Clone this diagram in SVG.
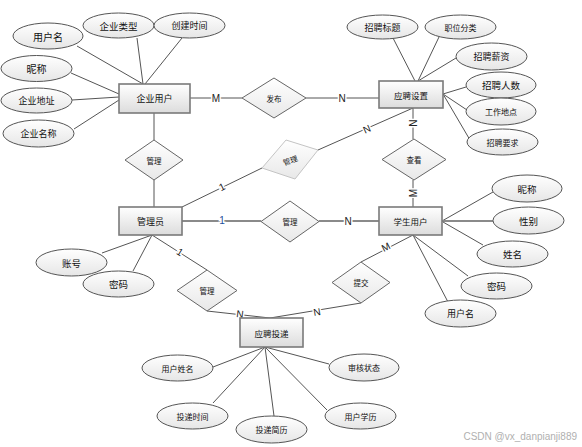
<svg xmlns="http://www.w3.org/2000/svg" width="582" height="447" viewBox="0 0 582 447">
<defs>
<linearGradient id="gEnt" x1="0" y1="0" x2="0" y2="1"><stop offset="0" stop-color="#ffffff"/><stop offset="1" stop-color="#dcdcdc"/></linearGradient>
<linearGradient id="gEll" x1="0" y1="0" x2="0" y2="1"><stop offset="0" stop-color="#ffffff"/><stop offset="1" stop-color="#e6e6e6"/></linearGradient>
<linearGradient id="gDia" x1="0" y1="0" x2="0" y2="1"><stop offset="0" stop-color="#ffffff"/><stop offset="1" stop-color="#e8e8e8"/></linearGradient>
</defs>
<style>
.ent{fill:url(#gEnt);stroke:#7a7a7a;stroke-width:1.6}
.ell{fill:url(#gEll);stroke:#555;stroke-width:1}
.dia{fill:url(#gDia);stroke:#666;stroke-width:1}
.dia2{fill:url(#gDia);stroke:#c4c4c4;stroke-width:1}
.t{font-family:"Noto Sans CJK SC","Liberation Sans",sans-serif;fill:#111;text-anchor:middle;dominant-baseline:central}
.lab{font-family:"Liberation Sans","DejaVu Sans",sans-serif;font-size:10px;fill:#222;text-anchor:middle;dominant-baseline:central;stroke:#fff;stroke-width:3;paint-order:stroke}
.ln{stroke:#555;stroke-width:1;fill:none}
.lnb{stroke:#8a8a8a;stroke-width:2;fill:none}
</style>
<rect width="582" height="447" fill="#fff"/>
<g id="connectors">
<line class="ln" x1="77" y1="46" x2="143" y2="84"/>
<line class="ln" x1="137" y1="38" x2="143" y2="84"/>
<line class="ln" x1="182" y1="38" x2="145" y2="84"/>
<line class="ln" x1="71" y1="73" x2="119" y2="94"/>
<line class="ln" x1="72" y1="100" x2="119" y2="97"/>
<line class="ln" x1="74" y1="129" x2="119" y2="100"/>
<line class="ln" x1="190" y1="98" x2="242" y2="98"/>
<line class="ln" x1="306" y1="98" x2="379" y2="98"/>
<line class="ln" x1="154" y1="113" x2="154" y2="140"/>
<line class="ln" x1="154" y1="180" x2="154" y2="207"/>
<line class="ln" x1="393" y1="38" x2="415" y2="81"/>
<line class="ln" x1="439" y1="37" x2="418" y2="81"/>
<line class="ln" x1="456" y1="58" x2="418" y2="81"/>
<line class="ln" x1="466" y1="87" x2="443" y2="94"/>
<line class="ln" x1="467" y1="110" x2="443" y2="94"/>
<line class="ln" x1="470" y1="140" x2="443" y2="94"/>
<line class="ln" x1="413" y1="108" x2="318" y2="150"/>
<line class="ln" x1="182" y1="207" x2="262" y2="168"/>
<line class="ln" x1="413" y1="108" x2="413" y2="139"/>
<line class="ln" x1="413" y1="180" x2="413" y2="207"/>
<line class="lnb" x1="182" y1="221" x2="261" y2="221"/>
<line class="lnb" x1="319" y1="221" x2="379" y2="221"/>
<line class="ln" x1="152" y1="235" x2="207" y2="270"/>
<line class="ln" x1="207" y1="311" x2="270" y2="318"/>
<line class="ln" x1="361" y1="262" x2="413" y2="235"/>
<line class="ln" x1="361" y1="303" x2="270" y2="318"/>
<line class="ln" x1="102" y1="253" x2="152" y2="235"/>
<line class="ln" x1="133" y1="271" x2="152" y2="235"/>
<line class="ln" x1="442" y1="221" x2="493" y2="192"/>
<line class="lnb" x1="442" y1="221" x2="493" y2="221"/>
<line class="ln" x1="443" y1="222" x2="483" y2="245"/>
<line class="ln" x1="413" y1="235" x2="468" y2="276"/>
<line class="ln" x1="413" y1="235" x2="448" y2="302"/>
<line class="ln" x1="265" y1="347" x2="213" y2="367"/>
<line class="ln" x1="265" y1="347" x2="329" y2="364"/>
<line class="ln" x1="265" y1="347" x2="213" y2="403"/>
<line class="ln" x1="265" y1="347" x2="274" y2="416"/>
<line class="ln" x1="265" y1="347" x2="327" y2="410"/>
<text class="lab" x="216" y="98">M</text>
<text class="lab" x="342" y="98">N</text>
<text class="lab" x="367" y="129" font-size="9" transform="rotate(-24 367 129)">N</text>
<text class="lab" x="222" y="187" font-size="9" transform="rotate(-26 222 187)">1</text>
<text class="lab" x="413" y="123" transform="rotate(-90 413 123)">N</text>
<text class="lab" x="413" y="193" transform="rotate(-90 413 193)">M</text>
<text class="lab" x="222" y="220" style="fill:#1f4f9c">1</text>
<text class="lab" x="348" y="221">N</text>
<text class="lab" x="180" y="252" font-size="9" transform="rotate(32 180 252)">1</text>
<text class="lab" x="240" y="314" font-size="8" transform="rotate(7 240 314)">N</text>
<text class="lab" x="317" y="312" font-size="8" transform="rotate(-9.5 317 312)">N</text>
<text class="lab" x="386" y="247" font-size="8" transform="rotate(-27 386 247)">M</text>
</g>
<g id="e-qiye"><rect class="ent" x="119" y="84" width="71" height="29"/><text class="t" x="154.5" y="98.5" font-size="9">企业用户</text></g>
<g id="e-zpsz"><rect class="ent" x="379" y="81" width="64" height="27"/><text class="t" x="411" y="94.5" font-size="8.5">应聘设置</text></g>
<g id="e-gly"><rect class="ent" x="119" y="207" width="63" height="28"/><text class="t" x="150.5" y="221" font-size="9">管理员</text></g>
<g id="e-xs"><rect class="ent" x="379" y="207" width="63" height="28"/><text class="t" x="410.5" y="221" font-size="8.5">学生用户</text></g>
<g id="e-tdi"><rect class="ent" x="240" y="318" width="63" height="29"/><text class="t" x="271.5" y="332.5" font-size="8.5">应聘投递</text></g>
<g id="r-fabu"><polygon class="dia" points="274,78 306,98 274,118 242,98"/><text class="t" x="274" y="98" font-size="7.5">发布</text></g>
<g id="r-guanli1"><polygon class="dia" points="154,140 183,160 154,180 125,160"/><text class="t" x="154" y="160" font-size="7.5">管理</text></g>
<g id="r-guanli2"><polygon class="dia2" points="286,140 318,150 295,179 262,168"/><text class="t" x="290" y="160" font-size="7.5" transform="rotate(-20 290 160)">管理</text></g>
<g id="r-chakan"><polygon class="dia" points="414,139 446,159.5 414,180 382,159.5"/><text class="t" x="414" y="159.5" font-size="7.5">查看</text></g>
<g id="r-guanli3"><polygon class="dia" points="290,201 319,221.5 290,242 261,221.5"/><text class="t" x="290" y="221.5" font-size="7.5">管理</text></g>
<g id="r-guanli4"><polygon class="dia" points="207,270 237,290.5 207,311 177,290.5"/><text class="t" x="207" y="290.5" font-size="7.5">管理</text></g>
<g id="r-tijiao"><polygon class="dia" points="361,262 390,282.5 361,303 332,282.5"/><text class="t" x="361" y="282.5" font-size="7.5">提交</text></g>
<g id="a-yhm1"><ellipse class="ell" cx="48" cy="36" rx="35" ry="13"/><text class="t" x="48" y="36" font-size="10">用户名</text></g>
<g id="a-qylx"><ellipse class="ell" cx="118.5" cy="25.5" rx="35.5" ry="12.5"/><text class="t" x="118.5" y="25.5" font-size="9.5">企业类型</text></g>
<g id="a-cjsj"><ellipse class="ell" cx="189.5" cy="25.5" rx="35.5" ry="12.5"/><text class="t" x="189.5" y="25.5" font-size="9">创建时间</text></g>
<g id="a-nc1"><ellipse class="ell" cx="36.5" cy="68.5" rx="35.5" ry="13"/><text class="t" x="36.5" y="68.5" font-size="10">昵称</text></g>
<g id="a-qydz"><ellipse class="ell" cx="36.5" cy="100.5" rx="35.5" ry="12.5"/><text class="t" x="36.5" y="100.5" font-size="9">企业地址</text></g>
<g id="a-qymc"><ellipse class="ell" cx="38.5" cy="133.5" rx="35.5" ry="13.5"/><text class="t" x="38.5" y="133.5" font-size="9">企业名称</text></g>
<g id="a-zpbt"><ellipse class="ell" cx="382.5" cy="27" rx="35.5" ry="12"/><text class="t" x="382.5" y="27" font-size="9">招聘标题</text></g>
<g id="a-zwfl"><ellipse class="ell" cx="460.5" cy="27" rx="35.5" ry="12"/><text class="t" x="460.5" y="27" font-size="8">职位分类</text></g>
<g id="a-zpxz"><ellipse class="ell" cx="491.5" cy="56.5" rx="35.5" ry="13.5"/><text class="t" x="491.5" y="56.5" font-size="9">招聘薪资</text></g>
<g id="a-zprs"><ellipse class="ell" cx="501" cy="85" rx="35" ry="13"/><text class="t" x="501" y="85" font-size="9.5">招聘人数</text></g>
<g id="a-gzdd"><ellipse class="ell" cx="501" cy="111.5" rx="35" ry="13.5"/><text class="t" x="501" y="111.5" font-size="8">工作地点</text></g>
<g id="a-zpyq"><ellipse class="ell" cx="502.5" cy="142" rx="35.5" ry="13"/><text class="t" x="502.5" y="142" font-size="8">招聘要求</text></g>
<g id="a-zh"><ellipse class="ell" cx="71.5" cy="262.5" rx="35.5" ry="13.5"/><text class="t" x="71.5" y="262.5" font-size="9.5">账号</text></g>
<g id="a-mm1"><ellipse class="ell" cx="118.5" cy="284" rx="35.5" ry="13"/><text class="t" x="118.5" y="284" font-size="9.5">密码</text></g>
<g id="a-nc2"><ellipse class="ell" cx="527" cy="188.5" rx="35" ry="13.5"/><text class="t" x="527" y="188.5" font-size="9.5">昵称</text></g>
<g id="a-xb"><ellipse class="ell" cx="528.5" cy="220.5" rx="35.5" ry="13.5"/><text class="t" x="528.5" y="220.5" font-size="9.5">性别</text></g>
<g id="a-xm"><ellipse class="ell" cx="512.5" cy="254" rx="35.5" ry="13"/><text class="t" x="512.5" y="254" font-size="9.5">姓名</text></g>
<g id="a-mm2"><ellipse class="ell" cx="496.5" cy="286" rx="35.5" ry="13"/><text class="t" x="496.5" y="286" font-size="9.5">密码</text></g>
<g id="a-yhm2"><ellipse class="ell" cx="460.5" cy="313.5" rx="35.5" ry="13.5"/><text class="t" x="460.5" y="313.5" font-size="9">用户名</text></g>
<g id="a-yhxm"><ellipse class="ell" cx="177.5" cy="368" rx="35.5" ry="13"/><text class="t" x="177.5" y="368" font-size="8">用户姓名</text></g>
<g id="a-shzt"><ellipse class="ell" cx="364" cy="367.5" rx="35" ry="13.5"/><text class="t" x="364" y="367.5" font-size="8">审核状态</text></g>
<g id="a-tdsj"><ellipse class="ell" cx="192.5" cy="416" rx="35.5" ry="13"/><text class="t" x="192.5" y="416" font-size="8">投递时间</text></g>
<g id="a-tdjl"><ellipse class="ell" cx="271.5" cy="429.5" rx="35.5" ry="13.5"/><text class="t" x="271.5" y="429.5" font-size="8">投递简历</text></g>
<g id="a-yhxl"><ellipse class="ell" cx="360.5" cy="416" rx="35.5" ry="13"/><text class="t" x="360.5" y="416" font-size="8">用户学历</text></g>
<text x="577" y="440" font-family="Liberation Sans, sans-serif" font-size="10" fill="#b0b0b0" text-anchor="end">CSDN @vx_danpianji889</text>
</svg>
